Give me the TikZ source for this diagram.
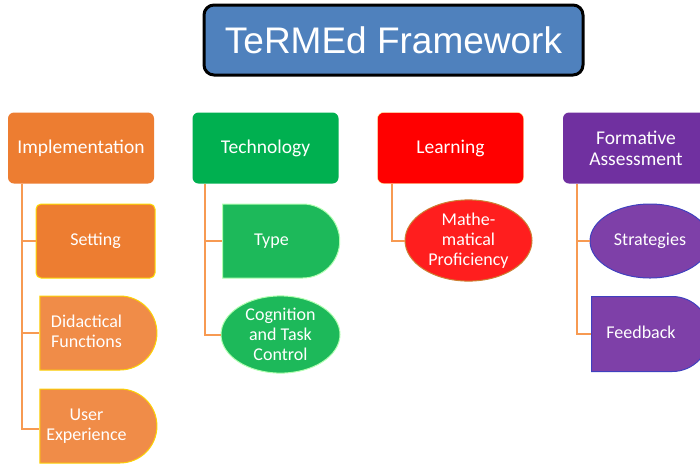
\documentclass[tikz,border=0pt]{standalone}
\usepackage{fontspec}
\setmainfont{Carlito}
\newfontfamily\titlefont{Liberation Sans}
\usetikzlibrary{shapes.geometric,shapes.misc}
\definecolor{titleblue}{HTML}{4F81BD}
\definecolor{implorange}{HTML}{ED7D31}
\definecolor{lightorange}{HTML}{F08C48}
\definecolor{techgreen}{HTML}{00B050}
\definecolor{lightgreen}{HTML}{1DB95A}
\definecolor{learnred}{HTML}{FF0000}
\definecolor{lightred}{HTML}{FF1E1E}
\definecolor{formpurple}{HTML}{7030A0}
\definecolor{lightpurple}{HTML}{7E40A8}
\definecolor{lineorange}{HTML}{F79A52}
% text of a half-round part, pushed off the round side
\newcommand{\halftext}[1]{\begin{tabular}{@{}c@{}}#1\end{tabular}\hspace*{18pt}}
\begin{document}
\begin{tikzpicture}[x=1pt,y=-1pt,
  head/.style={rectangle,rounded corners=6pt,minimum width=146pt,minimum height=71pt,
    inner sep=2pt,text=white,align=center,font=\fontsize{19.5}{21}\selectfont},
  part/.style={minimum width=119pt,minimum height=74pt,inner sep=1pt,line width=1pt,
    text=white,font=\fontsize{18}{20}\selectfont},
  box/.style={part,rectangle,rounded corners=5pt,align=center},
  half/.style={part,rounded rectangle,rounded rectangle west arc=none},
  oval/.style={part,ellipse,align=center},
  conn/.style={draw=lineorange,line width=2pt}]
\useasboundingbox (0,0) rectangle (700,464);
\clip (0,0) rectangle (700,464);
% title
\node[rectangle,rounded corners=10pt,minimum width=379pt,minimum height=70pt,
  fill=titleblue,draw=black,line width=3pt,text=white,font=\titlefont\fontsize{37}{40}\selectfont]
  (title) at (393.5,40) {TeRMEd Framework};
% headers
\node[head,fill=implorange] (impl) at (81,148) {Implementation};
\node[head,fill=techgreen] (tech) at (265.5,148) {Technology};
\node[head,fill=learnred,draw=yellow!40] (learn) at (450.5,148) {Learning};
\node[head,fill=formpurple] (form) at (636,148) {Formative\\Assessment};
% implementation
\node[box,fill=implorange,draw=yellow!80!orange] (setting) at (95.5,241) {Setting};
\node[half,fill=lightorange,draw=yellow!70!orange] (didact) at (95.5,333) {\halftext{Didactical\\Functions}};
\node[half,fill=lightorange,draw=yellow!70!orange] (user) at (95.5,426) {\halftext{User\\Experience}};
% technology
\node[half,fill=lightgreen,draw=green!30!white] (type) at (280.5,241) {\halftext{Type}};
\node[oval,fill=lightgreen,draw=green!30!white,minimum height=71pt] (cog) at (280.5,334.5) {Cognition\\and Task\\Control};
% learning
\node[oval,fill=lightred,draw=brown!80!orange,minimum width=127pt,minimum height=75pt] (math) at (468.5,240.5) {Mathe-\\matical\\Proficiency};
% formative assessment
\node[oval,fill=lightpurple,draw=blue!50!gray,minimum width=120pt] (strat) at (650,241) {Strategies};
\node[half,fill=lightpurple,draw=blue!50!gray,minimum width=120pt,minimum height=75pt] (feed) at (650,334) {\halftext{Feedback}};
% connectors
\draw[conn] ([xshift=14pt]impl.south west) |- (setting.west);
\draw[conn] ([xshift=14pt]impl.south west) |- (didact.west);
\draw[conn] ([xshift=14pt]impl.south west) |- ([yshift=-3pt]user.west);
\draw[conn] ([xshift=13pt]tech.south west) |- (type.west);
\draw[conn] ([xshift=13pt]tech.south west) |- (cog.west);
\draw[conn] ([xshift=15pt]learn.south west) |- (math.west);
\draw[conn] ([xshift=14pt]form.south west) |- (strat.west);
\draw[conn] ([xshift=14pt]form.south west) |- (feed.west);
\end{tikzpicture}
\end{document}
